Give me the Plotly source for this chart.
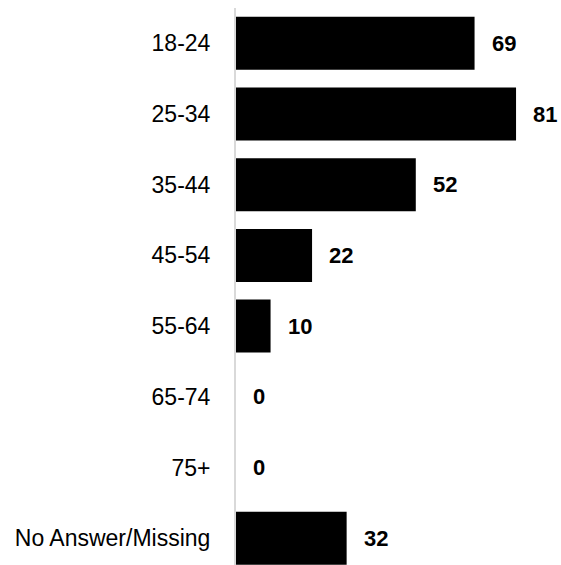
import plotly.graph_objects as go

# Respondents by age group
age_groups = ["18-24", "25-34", "35-44", "45-54", "55-64", "65-74", "75+", "No Answer/Missing"]
counts = [69, 81, 52, 22, 10, 0, 0, 32]

fig = go.Figure(
    go.Bar(
        x=counts,
        y=age_groups,
        orientation="h",
        marker=dict(color="#000000", line=dict(width=0)),
        hoverinfo="skip",
    )
)

# Value labels just past the end of each bar
for grp, val in zip(age_groups, counts):
    fig.add_annotation(
        x=val, y=grp, text=f"<b>{val}</b>", showarrow=False,
        xanchor="left", yanchor="middle", xshift=15,
        font=dict(family="Liberation Sans", size=22, color="#000000"),
    )

fig.update_layout(
    width=561, height=565,
    margin=dict(l=236, r=0, t=8, b=0),
    paper_bgcolor="white", plot_bgcolor="white",
    bargap=0.25,
    showlegend=False,
    font=dict(family="Liberation Sans", size=23, color="#000000"),
)
fig.update_xaxes(
    range=[0, 94], visible=False, showgrid=False, zeroline=False,
)
fig.update_yaxes(
    categoryorder="array", categoryarray=age_groups,
    range=[7.38, -0.5],
    showline=True, linecolor="#d9d9d9", linewidth=2,
    showgrid=False, zeroline=False,
    ticks="", ticklabelstandoff=19,
    tickfont=dict(family="Liberation Sans", size=23, color="#000000"),
)

fig.write_html("out.html")
